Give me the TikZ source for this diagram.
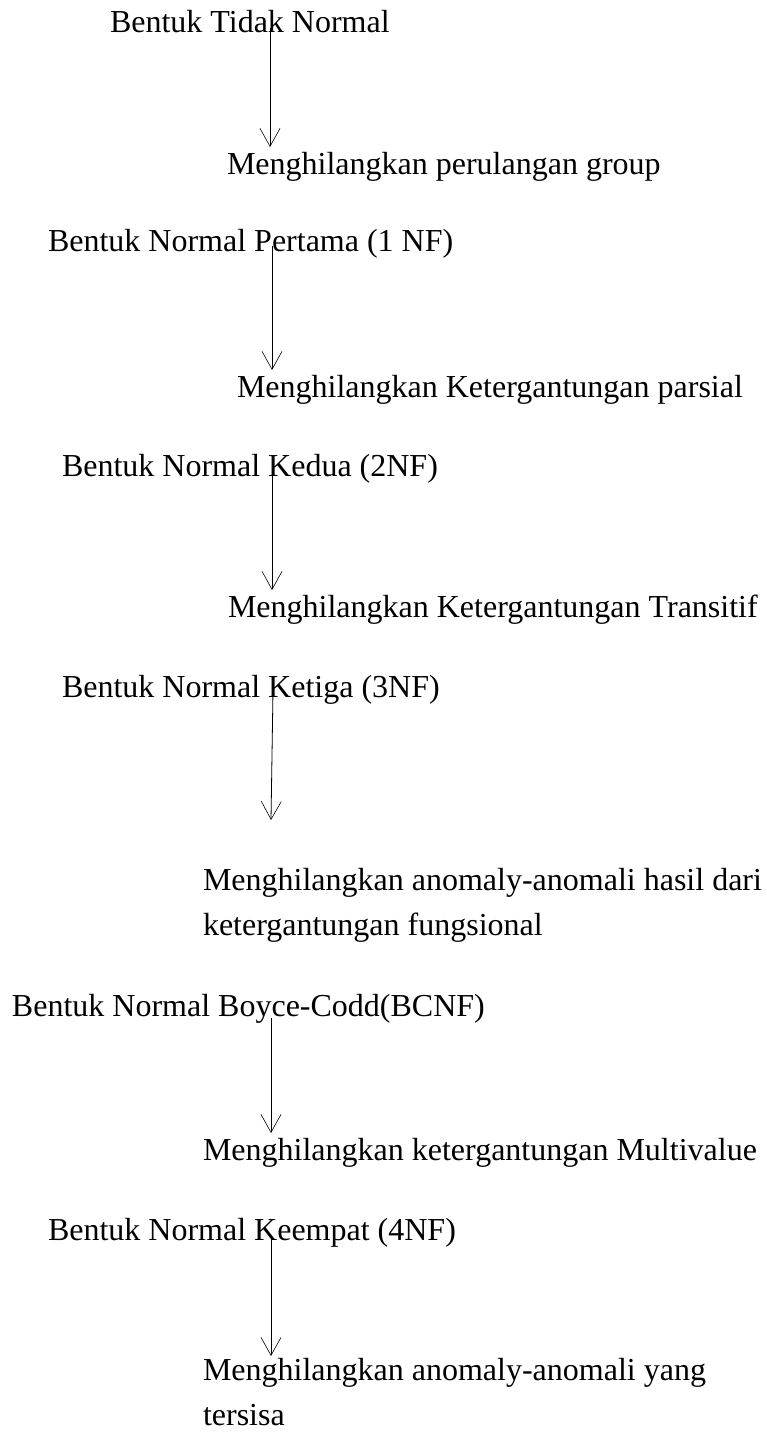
\documentclass[tikz,border=0pt]{standalone}
\usepackage{fontspec}
\setmainfont{Liberation Serif}
\usetikzlibrary{arrows.meta}
\begin{document}
\begin{tikzpicture}[x=1pt,y=-1pt,
  lbl/.style={anchor=base west,inner sep=0pt,outer sep=0pt,font=\fontsize{32}{45}\selectfont,align=left},
  flow/.style={line width=0.8pt,-{Straight Barb[length=18pt,width=20pt,line width=0.6pt]}}]
\useasboundingbox (0,0) rectangle (767,1434);
% texts (multi-line nodes are placed at the baseline of their last line)
\node[lbl] (t1) at (110,33) {Bentuk Tidak Normal};
\node[lbl] (t2) at (227,175) {Menghilangkan perulangan group};
\node[lbl] (t3) at (48,251) {Bentuk Normal Pertama (1 NF)};
\node[lbl] (t4) at (237,397) {Menghilangkan Ketergantungan parsial};
\node[lbl] (t5) at (62,476) {Bentuk Normal Kedua (2NF)};
\node[lbl] (t6) at (228,617) {Menghilangkan Ketergantungan Transitif};
\node[lbl] (t7) at (62,697) {Bentuk Normal Ketiga (3NF)};
\node[lbl] (t8) at (203,935) {Menghilangkan anomaly-anomali hasil dari\\ketergantungan fungsional};
\node[lbl] (t9) at (12,1016) {Bentuk Normal Boyce-Codd(BCNF)};
\node[lbl] (t10) at (203,1160) {Menghilangkan ketergantungan Multivalue};
\node[lbl] (t11) at (48,1240) {Bentuk Normal Keempat (4NF)};
\node[lbl] (t12) at (203,1425) {Menghilangkan anomaly-anomali yang\\tersisa};
% connector ends
\coordinate (s1) at (270,28);   \coordinate (e1) at (270,147);
\coordinate (s2) at (272,246);  \coordinate (e2) at (272,370);
\coordinate (s3) at (272,471);  \coordinate (e3) at (272,590);
\coordinate (s4) at (273,690);  \coordinate (e4) at (271,820);
\coordinate (s5) at (271,1018); \coordinate (e5) at (271,1133);
\coordinate (s6) at (271,1236); \coordinate (e6) at (271,1356);
\draw[flow] (s1) -- (e1);
\draw[flow] (s2) -- (e2);
\draw[flow] (s3) -- (e3);
\draw[flow] (s4) -- (e4);
\draw[flow] (s5) -- (e5);
\draw[flow] (s6) -- (e6);
\end{tikzpicture}
\end{document}
